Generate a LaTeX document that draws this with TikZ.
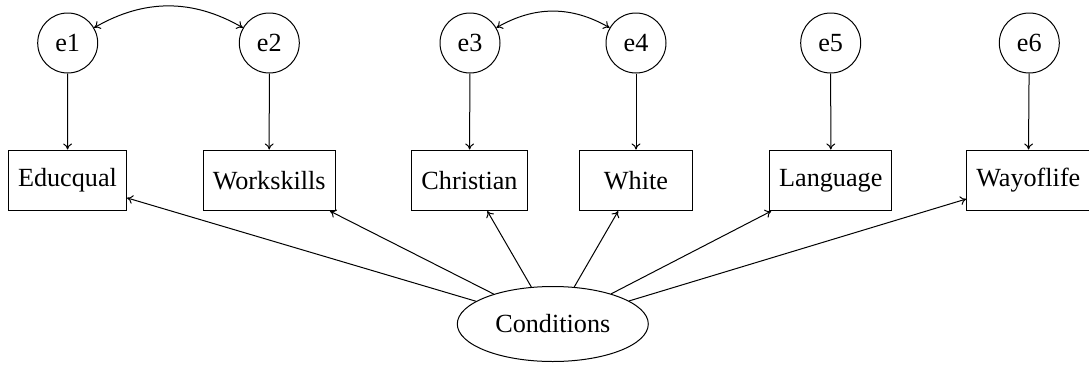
\documentclass[tikz,border=0pt]{standalone}
\usepackage{fontspec}
\setmainfont{Liberation Serif}
\usetikzlibrary{shapes.geometric,arrows.meta}
\begin{document}
\begin{tikzpicture}[x=0.5pt,y=-0.5pt,
  font=\fontsize{13.1pt}{15pt}\selectfont,
  >={To[length=3pt,width=4.4pt]},
  err/.style={draw,circle,minimum size=30pt,inner sep=0pt,line width=0.5pt},
  obs/.style={draw,rectangle,minimum width=56.5pt,minimum height=30.3pt,inner xsep=4.75pt,inner ysep=0pt,line width=0.5pt},
  lat/.style={draw,ellipse,minimum width=95.5pt,minimum height=37.5pt,inner sep=0pt,line width=0.5pt},
  path/.style={->,line width=0.5pt},
  cov/.style={<->,line width=0.5pt,bend left=30}]
\useasboundingbox (0,0) rectangle (1089,365);
\node[err] (e1) at (67.7,43) {e1};
\node[err] (e2) at (269.3,43) {e2};
\node[err] (e3) at (470,43) {e3};
\node[err] (e4) at (636,43) {e4};
\node[err] (e5) at (830.7,43) {e5};
\node[err] (e6) at (1029.3,43) {e6};
\node[obs] (v1) at (67.5,180.3) {Educqual};
\node[obs] (v2) at (269.2,180.3) {Workskills};
\node[obs] (v3) at (469.5,180.3) {Christian};
\node[obs] (v4) at (636,180.3) {White};
\node[obs] (v5) at (830.8,180.3) {Language};
\node[obs] (v6) at (1028.3,180.3) {Wayoflife};
\node[lat] (c) at (552.8,324) {Conditions};
\foreach \i in {1,...,6}{
  \draw[path] (e\i) -- (v\i);
  \draw[path] (c) -- (v\i);
}
\draw[cov] (e1) to (e2);
\draw[cov] (e3) to (e4);
\end{tikzpicture}
\end{document}
